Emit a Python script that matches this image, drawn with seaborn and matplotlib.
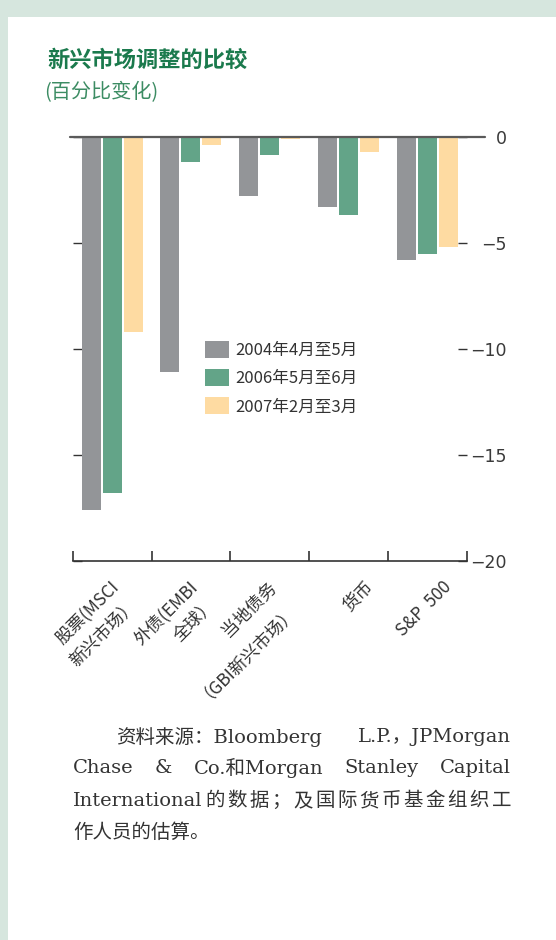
import matplotlib
matplotlib.use("Agg")
import matplotlib.pyplot as plt
import matplotlib.transforms as mtransforms
from matplotlib.patches import Rectangle
import seaborn as sns
import pandas as pd

categories = ["股票(MSCI\n新兴市场）", "外债(EMBI\n全球）", "当地债务\n（GBI新兴市场）", "货币", "S&P  500"]
periods = ["2004年4月至5月", "2006年5月至6月", "2007年2月至3月"]
vals_2004 = [-17.6, -11.1, -2.8, -3.3, -5.8]
vals_2006 = [-16.8, -1.2, -0.85, -3.7, -5.5]
vals_2007 = [-9.2, -0.4, -0.1, -0.7, -5.2]
colors = ["#939598", "#63a488", "#fedba2"]
yticks = [0, -5, -10, -15, -20]
ytick_labels = ["0", "−5", "−10", "−15", "−20"]

rows = []
for p, vals in zip(periods, [vals_2004, vals_2006, vals_2007]):
    for c, v in zip(categories, vals):
        rows.append({"cat": c, "period": p, "val": v})
df = pd.DataFrame(rows)

sns.set_style("white")
plt.rcParams["font.family"] = ["Noto Sans CJK SC", "DejaVu Sans"]

W, H = 556, 940
fig = plt.figure(figsize=(W / 100, H / 100), dpi=100)
fig.patch.set_facecolor("#d6e6de")
fig.patches.append(Rectangle((8 / W, 0), 1, 1 - 17 / H, transform=fig.transFigure,
                             facecolor="white", edgecolor="none", zorder=-10))

ax_l, ax_r, ax_t, ax_b = 72.7, 466.7, 137, 561
ax = fig.add_axes([ax_l / W, 1 - ax_b / H, (ax_r - ax_l) / W, (ax_b - ax_t) / H])
ax.set_facecolor("none")

sns.barplot(data=df, x="cat", y="val", hue="period", hue_order=periods,
            order=categories, palette=colors, saturation=1, width=0.8, gap=0.1,
            linewidth=0, ax=ax, legend=True, errorbar=None)

ax.set_xlim(-0.5, 4.5)
ax.set_ylim(-20, 0)
ax.set_xlabel("")
ax.set_ylabel("")

for s in ["top", "left", "right"]:
    ax.spines[s].set_visible(False)
ax.spines["bottom"].set_color("#333333")
ax.spines["bottom"].set_linewidth(1.2)

# zero line
ax.axhline(0, xmin=-0.007, xmax=1.046, color="#5a5a5a", lw=1.6, clip_on=False, zorder=5)

# y ticks on both sides, labels right (right-aligned)
ax.set_yticks(yticks)
ax.set_yticklabels(ytick_labels)
ax.tick_params(axis="y", left=True, right=True, labelleft=False, labelright=True,
               direction="in", length=6.5, width=1, color="#333333", pad=29,
               labelsize=12.5, labelcolor="#3a3a3a")
for lab in ax.get_yticklabels(which="both"):
    lab.set_family(["DejaVu Sans"])
    lab.set_ha("right")

# x: major ticks at group boundaries, labels at centers (minor)
ax.set_xticks([i - 0.5 for i in range(6)])
ax.set_xticklabels([""] * 6)
ax.tick_params(axis="x", which="major", bottom=True, direction="in", length=7.5,
               width=1.2, color="#333333")
ax.set_xticks(range(5), minor=True)
ax.set_xticklabels(categories, minor=True)
ax.tick_params(axis="x", which="minor", bottom=True, length=0, pad=12, labelsize=12.5,
               labelcolor="#333333")
offset = mtransforms.ScaledTranslation(28 / 100, 0, fig.dpi_scale_trans)
for lab in ax.get_xticklabels(minor=True):
    lab.set_rotation(45)
    lab.set_ha("right")
    lab.set_va("top")
    lab.set_multialignment("right")
    lab.set_linespacing(1.45)
    lab.set_transform(lab.get_transform() + offset)

# legend
leg = ax.legend(loc="upper left", bbox_to_anchor=(205 / W, 1 - 341 / H),
                bbox_transform=fig.transFigure, frameon=False, fontsize=12,
                handlelength=1.44, handleheight=1.2, labelspacing=0.6,
                handletextpad=0.36, borderpad=0, borderaxespad=0)
for t in leg.get_texts():
    t.set_color("#333333")

# titles
fig.text(47 / W, 1 - 60 / H, "新兴市场调整的比较", fontsize=16, fontweight="bold",
         color="#1b7a4d", va="center", ha="left")
fig.text(44 / W, 1 - 93 / H, "(百分比变化)", fontsize=14.5, color="#3c8c63",
         va="center", ha="left", fontweight="light")

# footnote with justified lines
note_kw = dict(fontsize=14, color="#333333", family=["DejaVu Serif", "Noto Sans CJK SC"],
               va="center", ha="left")
renderer = fig.canvas.get_renderer()


def justify(tokens, x0, x1, y, justify_line=True):
    texts = [fig.text(0, 0, t, **note_kw) for t in tokens]
    widths = [t.get_window_extent(renderer).width for t in texts]
    gap = (x1 - x0 - sum(widths)) / max(len(tokens) - 1, 1) if justify_line else 0
    x = x0
    for t, w in zip(texts, widths):
        t.set_position((x / W, 1 - y / H))
        x += w + gap


justify(["资料来源：Bloomberg", "L.P.，JPMorgan"], 116, 511, 737)
justify(["Chase", "&", "Co.和Morgan", "Stanley", "Capital"], 73, 511, 768)
justify(["International"] + list("的数据；及国际货币基金组织工"), 73, 511, 801)
justify(["作人员的估算。"], 73, 511, 833, justify_line=False)

fig.savefig("out.png", dpi=100, facecolor=fig.get_facecolor())
